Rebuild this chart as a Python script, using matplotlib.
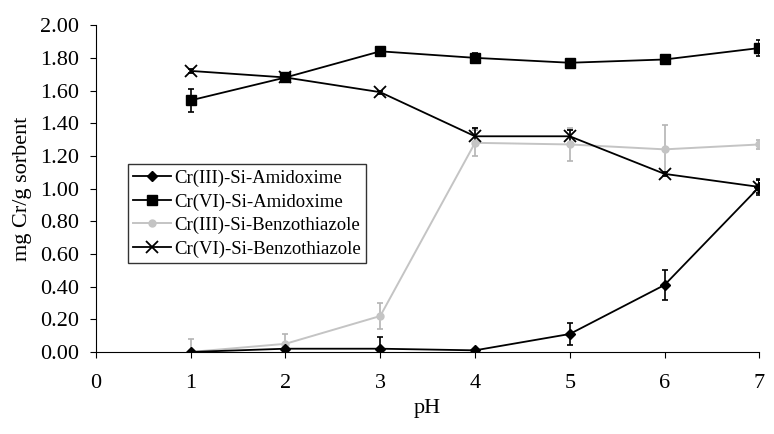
import matplotlib
matplotlib.use("Agg")
import matplotlib.pyplot as plt

plt.rcParams["font.family"] = ["Liberation Serif", "DejaVu Serif"]

ph = [1, 2, 3, 4, 5, 6, 7]

# Cr(III)-Si-Amidoxime
c3_amid = [0.00, 0.02, 0.02, 0.01, 0.11, 0.41, 1.01]
c3_amid_err = [0.0, 0.0, 0.07, 0.01, 0.07, 0.09, 0.05]
# Cr(VI)-Si-Amidoxime
c6_amid = [1.54, 1.68, 1.84, 1.80, 1.77, 1.79, 1.86]
c6_amid_err = [0.07, 0.02, 0.02, 0.03, 0.02, 0.02, 0.05]
# Cr(III)-Si-Benzothiazole
c3_bt = [0.00, 0.05, 0.22, 1.28, 1.27, 1.24, 1.27]
c3_bt_err = [0.08, 0.06, 0.08, 0.08, 0.10, 0.15, 0.03]
# Cr(VI)-Si-Benzothiazole
c6_bt = [1.72, 1.68, 1.59, 1.32, 1.32, 1.09, 1.01]
c6_bt_err = [0.01, 0.01, 0.01, 0.05, 0.04, 0.01, 0.04]

fig = plt.figure(figsize=(7.74, 4.34), dpi=100)
ax = fig.add_axes([0.124, 0.189, 0.857, 0.753])

err_kw = dict(capsize=2.5, elinewidth=1.2, capthick=1.2)
e3bt = ax.errorbar(ph, c3_bt, yerr=c3_bt_err, color="#c4c4c4", ecolor="#b4b4b4", marker="o",
                   markersize=5, lw=1.4, label="Cr(III)-Si-Benzothiazole", **err_kw)
e3am = ax.errorbar(ph, c3_amid, yerr=c3_amid_err, color="black", marker="D", markersize=5,
                   lw=1.3, label="Cr(III)-Si-Amidoxime", **err_kw)
e6am = ax.errorbar(ph, c6_amid, yerr=c6_amid_err, color="black", marker="s", markersize=7,
                   lw=1.3, label="Cr(VI)-Si-Amidoxime", **err_kw)
e6bt = ax.errorbar(ph, c6_bt, yerr=c6_bt_err, color="black", marker="x", markersize=8, mew=1.3,
                   lw=1.3, label="Cr(VI)-Si-Benzothiazole", **err_kw)

ax.set_xlim(0, 7)
ax.set_ylim(0, 2.0)
ax.set_xticks(range(0, 8))
ax.set_yticks([i * 0.2 for i in range(11)])
ax.set_yticklabels([f"{i * 0.2:.2f}" for i in range(11)])
ax.spines["top"].set_visible(False)
ax.spines["right"].set_visible(False)
ax.tick_params(labelsize=16, direction="out", length=4)
ax.tick_params(axis="x", pad=12)
ax.tick_params(axis="y", pad=8)
ax.set_xlabel("pH", fontsize=16, labelpad=4)
ax.set_ylabel("mg Cr/g sorbent", fontsize=16, labelpad=6)

# legend shows line + marker only, no error bars
leg_handles = [e3am[0], e6am[0], e3bt[0], e6bt[0]]
leg_labels = ["Cr(III)-Si-Amidoxime", "Cr(VI)-Si-Amidoxime",
              "Cr(III)-Si-Benzothiazole", "Cr(VI)-Si-Benzothiazole"]
leg = ax.legend(leg_handles, leg_labels,
                loc="upper left", bbox_to_anchor=(0.048, 0.575), fontsize=13.5,
                frameon=True, fancybox=False, edgecolor="black", handlelength=2.0,
                handletextpad=0.15, borderpad=0.3, labelspacing=0.33, borderaxespad=0)
leg.get_frame().set_linewidth(1.0)

fig.savefig("out.png", dpi=100)
